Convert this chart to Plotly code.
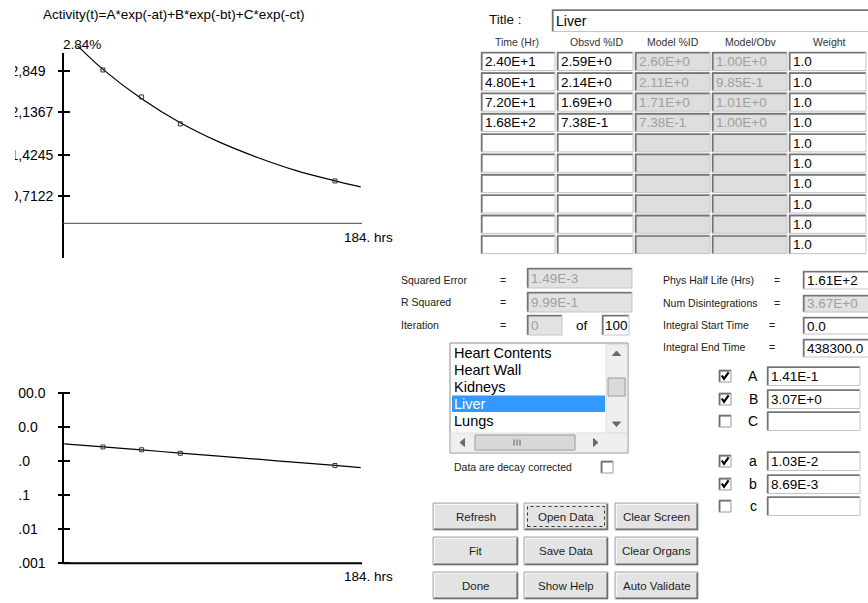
import plotly.graph_objects as go

W, H = 868, 603
FONT = "Liberation Sans, Arial, sans-serif"

# ---------------- data ----------------
times = [24, 48, 72, 168]
obsvd = [2.59, 2.14, 1.69, 0.738]
curve_t = [0, 8, 24, 48, 72, 96, 120, 144, 168, 184]
curve_v = [3.21, 3.00, 2.60, 2.11, 1.71, 1.39, 1.13, 0.91, 0.74, 0.64]

top_tick_labels = ["2,849", "2,1367", "1,4245", "0,7122"]
top_tick_vals = [2.578, 1.894, 1.171, 0.487]
log_tick_vals = [100, 10, 1, 0.1, 0.01, 0.001]
log_tick_labels = ["100.0", "10.0", "1.0", "0.1", "0.01", "0.001"]

col_headers = ["Time (Hr)", "Obsvd %ID", "Model %ID", "Model/Obv", "Weight"]
time_txt = ["2.40E+1", "4.80E+1", "7.20E+1", "1.68E+2"]
obsvd_txt = ["2.59E+0", "2.14E+0", "1.69E+0", "7.38E-1"]
model_txt = ["2.60E+0", "2.11E+0", "1.71E+0", "7.38E-1"]
ratio_txt = ["1.00E+0", "9.85E-1", "1.01E+0", "1.00E+0"]
weight_txt = ["1.0"] * 10

organs = ["Heart Contents", "Heart Wall", "Kidneys", "Liver", "Lungs"]
selected_organ = "Liver"

coef_names = ["A", "B", "C"]
coef_vals = ["1.41E-1", "3.07E+0", ""]
coef_checked = [True, True, False]
rate_names = ["a", "b", "c"]
rate_vals = ["1.03E-2", "8.69E-3", ""]
rate_checked = [True, True, False]

buttons = [["Refresh", "Open Data", "Clear Screen"],
           ["Fit", "Save Data", "Clear Organs"],
           ["Done", "Show Help", "Auto Validate"]]


# ---------------- helpers ----------------
def X(px):
    return px / W


def Y(py):
    return 1 - py / H


shapes = []
annots = []


def rect(x0, y0, x1, y1, fill, line="rgba(0,0,0,0)", lw=1, dash=None):
    d = dict(type="rect", xref="paper", yref="paper", x0=X(x0), x1=X(x1),
             y0=Y(y1), y1=Y(y0), fillcolor=fill,
             line=dict(color=line, width=lw), layer="above")
    if dash:
        d["line"]["dash"] = dash
    shapes.append(d)


def path(pts, color, lw=1, fill=None, closed=False):
    s = "M " + " L ".join(f"{X(a):.5f},{Y(b):.5f}" for a, b in pts)
    if closed:
        s += " Z"
    d = dict(type="path", xref="paper", yref="paper", path=s,
             line=dict(color=color, width=lw), layer="above")
    if fill:
        d["fillcolor"] = fill
    shapes.append(d)


def line(x0, y0, x1, y1, color="black", lw=1):
    shapes.append(dict(type="line", xref="paper", yref="paper",
                       x0=X(x0), x1=X(x1), y0=Y(y0), y1=Y(y1),
                       line=dict(color=color, width=lw), layer="above"))


def text(x, y, s, size=14, color="black", anchor="left"):
    annots.append(dict(xref="paper", yref="paper", x=X(x), y=Y(y), text=s,
                       xanchor=anchor, yanchor="middle", showarrow=False,
                       borderpad=0,
                       font=dict(family=FONT, size=size, color=color)))


def sunken(x0, y0, x1, y1, fill="white"):
    rect(x0, y0, x1, y1, fill, "#c4c4c4", 1)
    path([(x0 + 0.8, y1 - 0.5), (x0 + 0.8, y0 + 0.8), (x1 - 0.5, y0 + 0.8)],
         "#747474", 1.6)


def checkbox(x0, cy, checked):
    rect(x0, cy - 6, x0 + 12, cy + 6, "white", "#9a9a9a", 1)
    path([(x0 + 0.8, cy + 5.5), (x0 + 0.8, cy - 5.2), (x0 + 11.5, cy - 5.2)],
         "#555555", 1.2)
    if checked:
        path([(x0 + 2.8, cy - 0.5), (x0 + 5, cy + 2.8), (x0 + 9.6, cy - 3.6)],
             "black", 2.2)


def button(x0, y0, x1, y1, label, focus=False):
    rect(x0, y0, x1, y1, "#e3e3e3", "#a8a8a8", 1)
    path([(x0 + 1.5, y1 - 1.5), (x0 + 1.5, y0 + 1.5), (x1 - 1.5, y0 + 1.5)],
         "#f7f7f7", 1)
    path([(x0 + 1, y1 - 0.8), (x1 - 0.8, y1 - 0.8), (x1 - 0.8, y0 + 1)],
         "#6e6e6e", 1.6)
    if focus:
        rect(x0 + 3.5, y0 + 3.5, x1 - 3.5, y1 - 3.5, "rgba(0,0,0,0)",
             "#333333", 1, dash="dot")
    text((x0 + x1) / 2, (y0 + y1) / 2, label, 11.5, "#1e1e1e", "center")


# ---------------- traces ----------------
fig = go.Figure()
fig.add_trace(go.Scatter(x=curve_t, y=curve_v, mode="lines",
                         line=dict(color="black", width=1.2, shape="spline"),
                         xaxis="x", yaxis="y", hoverinfo="skip"))
fig.add_trace(go.Scatter(x=times, y=obsvd, mode="markers",
                         marker=dict(symbol="square-open", size=4,
                                     color="#333333", line=dict(width=1)),
                         xaxis="x", yaxis="y", hoverinfo="skip"))
fig.add_trace(go.Scatter(x=curve_t, y=curve_v, mode="lines",
                         line=dict(color="black", width=1.2, shape="spline"),
                         xaxis="x2", yaxis="y2", hoverinfo="skip"))
fig.add_trace(go.Scatter(x=times, y=obsvd, mode="markers",
                         marker=dict(symbol="square-open", size=4,
                                     color="#333333", line=dict(width=1)),
                         xaxis="x2", yaxis="y2", hoverinfo="skip"))
# empty traces so that the label-only overlay axes get drawn
fig.add_trace(go.Scatter(x=[], y=[], mode="markers", xaxis="x", yaxis="y3",
                         hoverinfo="skip"))
fig.add_trace(go.Scatter(x=[], y=[], mode="markers", xaxis="x2", yaxis="y4",
                         hoverinfo="skip"))

# ---------------- axes ----------------
xdom = [X(63), X(362)]
xrng = [(63 - 64.3) / 1.611, (362 - 64.3) / 1.611]
top_rng = [(225.2 - 223) / 59.94, (225.2 - 46) / 59.94]
top_dom = [Y(223), Y(46)]
bot_dom = [Y(563), Y(393)]

hidden_x = dict(domain=xdom, range=xrng, showline=False, showgrid=False,
                zeroline=False, showticklabels=False, ticks="",
                automargin=False)
tick_axis = dict(anchor="free", position=X(69.5), ticks="outside", ticklen=12,
                 tickwidth=1.5, tickcolor="black", showline=False,
                 showgrid=False, zeroline=False, showticklabels=False,
                 automargin=False)
label_axis = dict(anchor="free", side="right", position=X(9.5), ticks="",
                  showline=False, showgrid=False, zeroline=False,
                  automargin=False,
                  tickfont=dict(family=FONT, size=14, color="black"))

fig.update_layout(
    width=W, height=H, margin=dict(l=0, r=0, t=0, b=0, pad=0),
    paper_bgcolor="white", plot_bgcolor="rgba(0,0,0,0)",
    showlegend=False, hovermode=False,
    xaxis=dict(anchor="y", **hidden_x),
    xaxis2=dict(anchor="y2", **hidden_x),
    yaxis=dict(domain=top_dom, range=top_rng, tickvals=top_tick_vals,
               **tick_axis),
    yaxis2=dict(domain=bot_dom, type="log", range=[-3, 2],
                tickvals=log_tick_vals, **tick_axis),
    yaxis3=dict(overlaying="y", range=top_rng, tickvals=top_tick_vals,
                ticktext=top_tick_labels, **label_axis),
    yaxis4=dict(overlaying="y2", type="log", range=[-3, 2],
                tickvals=log_tick_vals, ticktext=log_tick_labels,
                **label_axis),
)

# axis lines
line(63, 53, 63, 258, "black", 2)
line(63, 223.3, 362, 223.3, "#444444", 1)
line(63, 392, 63, 564, "black", 2)
line(63, 563.3, 362, 563.3, "black", 2)
# left window edge clipping the tick labels
rect(-2, 55, 15, 230, "white", "rgba(0,0,0,0)", 0)
rect(-2, 380, 18, 600, "white", "rgba(0,0,0,0)", 0)

text(42, 15, "Activity(t)=A*exp(-at)+B*exp(-bt)+C*exp(-ct)", 13.5)
text(62, 45, "2.84%", 13.5)
text(343, 237, "184. hrs", 13.5)
text(343, 576, "184. hrs", 13.5)

# ---------------- right panel: title + table ----------------
text(488, 20, "Title :", 13.5, "#111111")
sunken(552, 9.5, 872, 31.5)
text(555, 21, "Liver", 14)

col_x = [(481, 555), (557, 633), (635, 710), (712, 787), (789, 866)]
hdr_cx = [517, 597, 673, 751, 829]
for cx, h in zip(hdr_cx, col_headers):
    text(cx, 42, h, 10.5, "#333333", "center")

columns = [time_txt, obsvd_txt, model_txt, ratio_txt, weight_txt]
disabled_cols = [False, False, True, True, False]
for i in range(10):
    top = 52 + 20.35 * i
    bot = top + 18.5
    for c, (x0, x1) in enumerate(col_x):
        fill = "#dedede" if disabled_cols[c] else "white"
        sunken(x0, top, x1, bot, fill)
        vals = columns[c]
        if i < len(vals) and vals[i]:
            color = "#a0a0a0" if disabled_cols[c] else "black"
            text(x0 + 2.5, (top + bot) / 2 + 0.5, vals[i], 13.5, color)

# ---------------- stats ----------------
LBL = "#202020"
text(400, 280, "Squared Error", 10.5, LBL)
text(503, 280, "=", 10.5, LBL, "center")
sunken(527, 268, 632, 288, "#e2e2e2")
text(530, 278.5, "1.49E-3", 13.5, "#a0a0a0")

text(400, 302, "R Squared", 10.5, LBL)
text(503, 302, "=", 10.5, LBL, "center")
sunken(527, 292, 632, 312, "#e2e2e2")
text(530, 302, "9.99E-1", 13.5, "#a0a0a0")

text(400, 325, "Iteration", 10.5, LBL)
text(503, 325, "=", 10.5, LBL, "center")
sunken(527, 315, 562, 335, "#e2e2e2")
text(530, 325.5, "0", 13.5, "#a0a0a0")
text(582, 325, "of", 13.5, "black", "center")
sunken(602, 315, 629, 335, "white")
text(604, 325.5, "100", 13.5, "black")

text(662, 280, "Phys Half Life (Hrs)", 10.5, LBL)
text(777, 280, "=", 10.5, LBL, "center")
sunken(803, 271, 872, 289, "white")
text(806, 280.5, "1.61E+2", 13.5, "black")

text(662, 303, "Num Disintegrations", 10.5, LBL)
text(777, 303, "=", 10.5, LBL, "center")
sunken(803, 295, 872, 312, "#e2e2e2")
text(806, 303.5, "3.67E+0", 13.5, "#a0a0a0")

text(662, 325, "Integral Start Time", 10.5, LBL)
text(772, 325, "=", 10.5, LBL, "center")
sunken(803, 317, 872, 334, "white")
text(806, 326, "0.0", 13.5, "black")

text(662, 347, "Integral End Time", 10.5, LBL)
text(772, 347, "=", 10.5, LBL, "center")
sunken(803, 339, 872, 357, "white")
text(806, 348, "438300.0", 13.5, "black")

# ---------------- list box ----------------
rect(450, 343, 628, 453, "white", "#8c8c8c", 1)
item_y0 = 353
for k, org in enumerate(organs):
    yy = item_y0 + 17 * k
    if org == selected_organ:
        rect(452, yy - 8.5, 605, yy + 8, "#3399ff")
        text(453, yy, org, 14.5, "white")
    else:
        text(453, yy, org, 14.5, "black")
# vertical scrollbar
rect(606, 344.5, 627, 433, "#efefef", "#e0e0e0", 1)
path([(612.5, 355.5), (616.5, 351), (620.5, 355.5)], "#6a6a6a", 1,
     fill="#6a6a6a", closed=True)
path([(612.5, 422), (616.5, 426.5), (620.5, 422)], "#6a6a6a", 1,
     fill="#6a6a6a", closed=True)
rect(608, 378, 625, 396, "#dadada", "#9a9a9a", 1)
# horizontal scrollbar
rect(451, 433, 627, 452, "#efefef", "#e0e0e0", 1)
path([(464.5, 438.5), (460, 442.5), (464.5, 446.5)], "#6a6a6a", 1,
     fill="#6a6a6a", closed=True)
path([(593.5, 438.5), (598, 442.5), (593.5, 446.5)], "#6a6a6a", 1,
     fill="#6a6a6a", closed=True)
rect(475, 435, 575, 450, "#d8d8d8", "#9a9a9a", 1)
for gx in (514, 517, 520):
    line(gx, 439.5, gx, 445.5, "#606060", 1)

text(453, 467, "Data are decay corrected", 10.5, LBL)
checkbox(601, 467, False)

# ---------------- coefficient checkboxes ----------------
coef_y = [376, 399, 421]
rate_y = [461, 484, 506]
for names, vals, checks, ys in ((coef_names, coef_vals, coef_checked, coef_y),
                                (rate_names, rate_vals, rate_checked, rate_y)):
    for nm, v, ch, yy in zip(names, vals, checks, ys):
        checkbox(719, yy, ch)
        text(753, yy, nm, 14, "black", "center")
        sunken(767, yy - 9.5, 860, yy + 9.5, "white")
        if v:
            text(770, yy + 0.5, v, 13.5, "black")

# ---------------- buttons ----------------
bx = [(433, 518), (524, 608), (615, 698)]
by = [(503, 530), (537, 565), (572, 599)]
for r, row in enumerate(buttons):
    for c, lab in enumerate(row):
        button(bx[c][0], by[r][0], bx[c][1], by[r][1], lab,
               focus=(lab == "Open Data"))

fig.update_layout(shapes=shapes, annotations=annots)
fig.write_html("out.html")
